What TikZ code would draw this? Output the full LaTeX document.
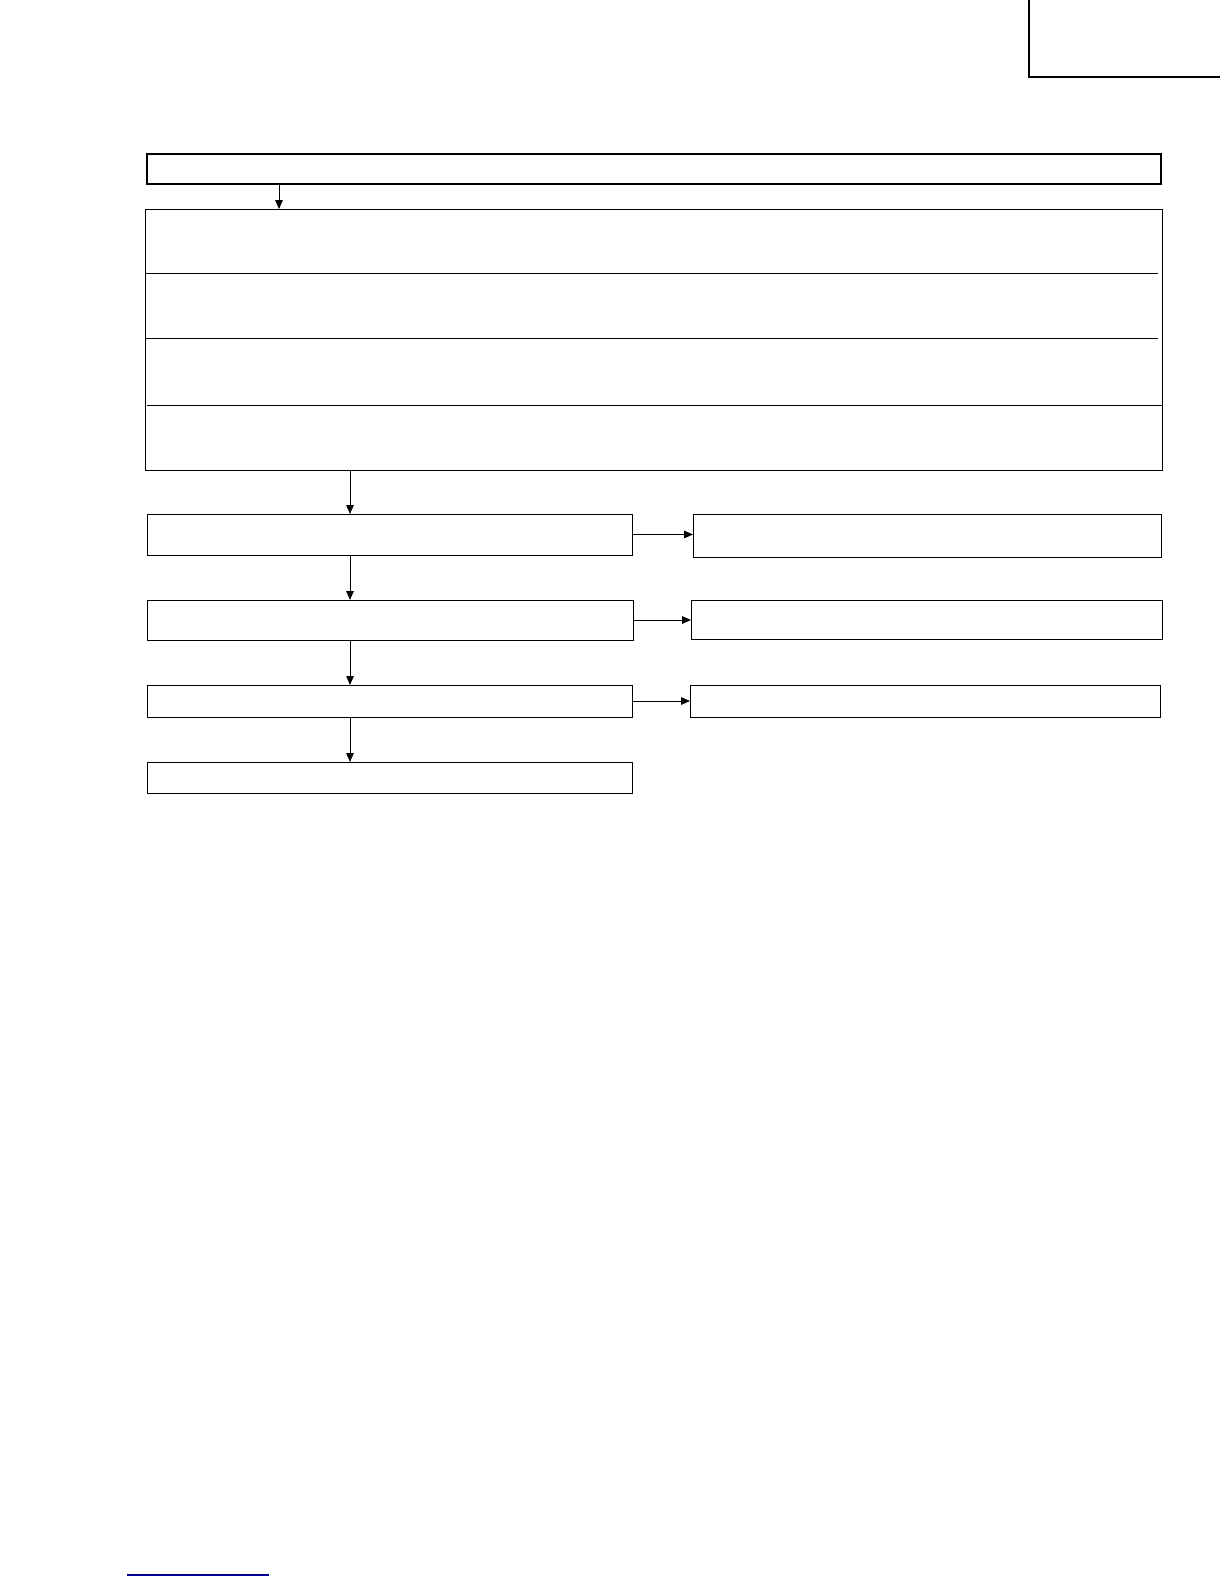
\documentclass[tikz,border=0pt]{standalone}
\usetikzlibrary{arrows.meta, positioning}

\begin{document}
\begin{tikzpicture}[
    x=0.5pt, y=-0.5pt,
    box/.style={rectangle, draw=black, line width=0.5pt, inner sep=0pt, outer sep=0pt, anchor=north west},
    headbox/.style={box, line width=1.2pt},
    arrow/.style={-{Triangle[length=4.5pt, width=3.8pt]}, line width=0.5pt, black},
    rule/.style={line width=0.5pt, black}
]
\useasboundingbox (0,0) rectangle (1224,1584);

% Corner mark
\draw[line width=1.2pt] (1029,0) -- (1029,77) -- (1220,77);

% Header
\node[headbox, minimum width=507pt, minimum height=15pt] (head) at (147,154) {};

% Stacked block
\node[box, minimum width=508.5pt, minimum height=130.5pt] (block) at (145,209) {};
\draw[rule] (145,273) -- (1158,273);
\draw[rule] (145,338) -- (1158,338);
\draw[rule] (147,405) -- (1162,405);

% Left column
\node[box, minimum width=242.5pt, minimum height=20.5pt] (stepa) at (147,514) {};
\node[box, minimum width=243pt, minimum height=20pt, below=22.5pt of stepa.south west, anchor=north west] (stepb) {};
\node[box, minimum width=242.5pt, minimum height=16pt, below=22.5pt of stepb.south west, anchor=north west] (stepc) {};
\node[box, minimum width=242.5pt, minimum height=15.5pt, below=22.5pt of stepc.south west, anchor=north west] (stepd) {};

% Right column
\node[box, minimum width=234pt, minimum height=21.5pt] (sidea) at (693,514) {};
\node[box, minimum width=235.5pt, minimum height=19.5pt] (sideb) at (691,600) {};
\node[box, minimum width=235pt, minimum height=16pt] (sidec) at (690,685) {};

% Arrows
\coordinate (drop) at (279,0);
\coordinate (spine) at (350,0);
\draw[arrow] (head.south -| drop) -- (block.north -| drop);
\draw[arrow] (block.south -| spine) -- (stepa.north -| spine);
\draw[arrow] (stepa.south -| spine) -- (stepb.north -| spine);
\draw[arrow] (stepb.south -| spine) -- (stepc.north -| spine);
\draw[arrow] (stepc.south -| spine) -- (stepd.north -| spine);

\draw[arrow] (stepa.east) -- (stepa.east -| sidea.west);
\draw[arrow] (stepb.east) -- (stepb.east -| sideb.west);
\draw[arrow] (stepc.east) -- (stepc.east -| sidec.west);

% Footer link rule
\definecolor{linkblue}{RGB}{0,0,150}
\draw[linkblue, line width=0.7pt] (127,1575) -- (269,1575);

\end{tikzpicture}
\end{document}
